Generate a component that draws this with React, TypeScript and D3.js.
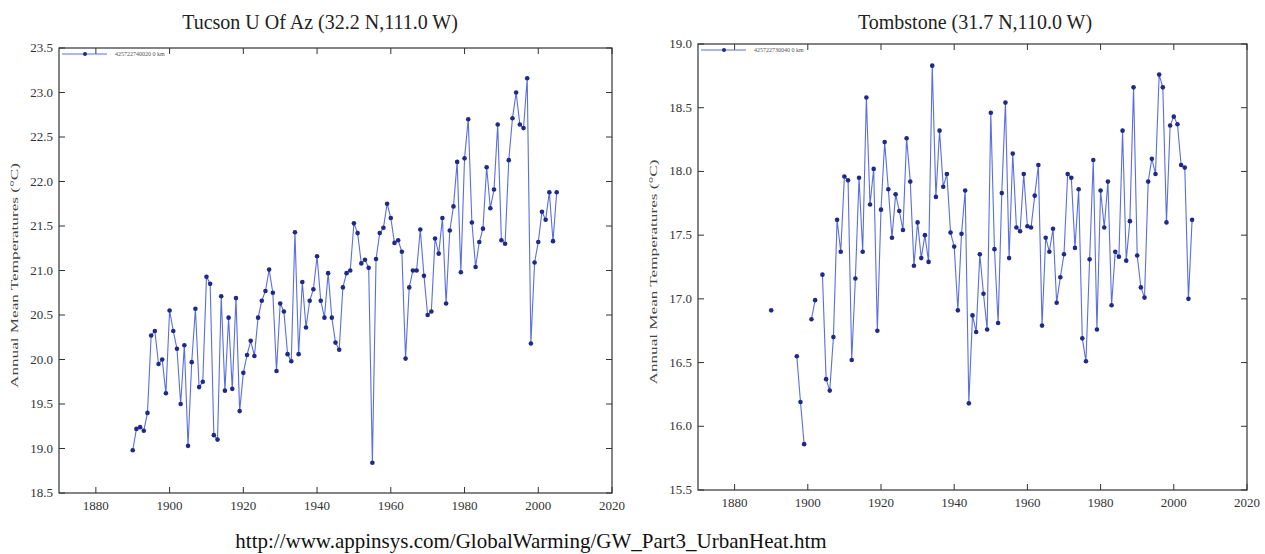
import React, { useEffect, useRef } from 'react';
import * as d3 from 'd3';

// Tucson U Of Az, annual mean temperature, 1890-2005
const tucsonYears = d3.range(1890, 2006);
const tucsonValues = [
  18.98, 19.22, 19.24, 19.20, 19.40, 20.27, 20.32, 19.95, 20.00, 19.62,
  20.55, 20.32, 20.12, 19.50, 20.16, 19.03, 19.97, 20.57, 19.69, 19.75,
  20.93, 20.85, 19.15, 19.10, 20.71, 19.65, 20.47, 19.67, 20.69, 19.42,
  19.85, 20.05, 20.21, 20.04, 20.47, 20.66, 20.77, 21.01, 20.75, 19.87,
  20.63, 20.54, 20.06, 19.98, 21.43, 20.06, 20.87, 20.36, 20.66, 20.79,
  21.16, 20.66, 20.47, 20.97, 20.47, 20.19, 20.11, 20.81, 20.97, 21.00,
  21.53, 21.42, 21.08, 21.12, 21.03, 18.84, 21.13, 21.42, 21.48, 21.75,
  21.59, 21.31, 21.34, 21.21, 20.01, 20.81, 21.00, 21.00, 21.46, 20.94,
  20.50, 20.54, 21.36, 21.19, 21.59, 20.63, 21.45, 21.72, 22.22, 20.98,
  22.26, 22.70, 21.54, 21.04, 21.32, 21.47, 22.16, 21.70, 21.91, 22.64,
  21.34, 21.30, 22.24, 22.71, 23.00, 22.64, 22.60, 23.16, 20.18, 21.09,
  21.32, 21.66, 21.57, 21.88, 21.33, 21.88
];

// Tombstone, 1890-2005 (null = missing year)
const tombstoneYears = d3.range(1890, 2006);
const tombstoneValues = [
  16.91, null, null, null, null, null, null, 16.55, 16.19, 15.86,
  null, 16.84, 16.99, null, 17.19, 16.37, 16.28, 16.70, 17.62, 17.37,
  17.96, 17.93, 16.52, 17.16, 17.95, 17.37, 18.58, 17.74, 18.02, 16.75,
  17.70, 18.23, 17.86, 17.48, 17.82, 17.69, 17.54, 18.26, 17.92, 17.26,
  17.60, 17.32, 17.50, 17.29, 18.83, 17.80, 18.32, 17.88, 17.98, 17.52,
  17.41, 16.91, 17.51, 17.85, 16.18, 16.87, 16.74, 17.35, 17.04, 16.76,
  18.46, 17.39, 16.81, 17.83, 18.54, 17.32, 18.14, 17.56, 17.53, 17.98,
  17.57, 17.56, 17.81, 18.05, 16.79, 17.48, 17.37, 17.55, 16.97, 17.17,
  17.35, 17.98, 17.95, 17.40, 17.86, 16.69, 16.51, 17.31, 18.09, 16.76,
  17.85, 17.56, 17.92, 16.95, 17.37, 17.33, 18.32, 17.30, 17.61, 18.66,
  17.34, 17.09, 17.01, 17.92, 18.10, 17.98, 18.76, 18.66, 17.60, 18.36,
  18.43, 18.37, 18.05, 18.03, 17.00, 17.62
];

const xTicks = [1880, 1900, 1920, 1940, 1960, 1980, 2000, 2020];
const tucsonYTicks = [18.5, 19.0, 19.5, 20.0, 20.5, 21.0, 21.5, 22.0, 22.5, 23.0, 23.5];
const tombstoneYTicks = [15.5, 16.0, 16.5, 17.0, 17.5, 18.0, 18.5, 19.0];

const panels = [
  {
    title: 'Tucson U Of Az (32.2 N,111.0 W)',
    legend: '425722740020 0 km',
    years: tucsonYears, values: tucsonValues,
    yDomain: [18.5, 23.5], yTicks: tucsonYTicks,
    left: 59, right: 612, top: 48, bottom: 493,
    titleX: 320, labelX: 18
  },
  {
    title: 'Tombstone (31.7 N,110.0 W)',
    legend: '425722730040 0 km',
    years: tombstoneYears, values: tombstoneValues,
    yDomain: [15.5, 19.0], yTicks: tombstoneYTicks,
    left: 698, right: 1247, top: 44, bottom: 490,
    titleX: 975, labelX: 657
  }
];

const lineColor = '#5a6ee0';
const dotColor = '#1e2a86';
const axisColor = '#333';
const font = '"Liberation Serif", "DejaVu Serif", serif';

function App() {
  const ref = useRef(null);

  useEffect(() => {
    const svg = d3.select(ref.current);
    svg.selectAll('*').remove();

    panels.forEach(p => {
      const x = d3.scaleLinear().domain([1870, 2020]).range([p.left, p.right]);
      const y = d3.scaleLinear().domain(p.yDomain).range([p.bottom, p.top]);
      const data = p.years.map((yr, i) => ({ year: yr, value: p.values[i] }));
      const g = svg.append('g');

      // title
      g.append('text')
        .attr('x', p.titleX).attr('y', 29)
        .attr('text-anchor', 'middle')
        .attr('font-family', font).attr('font-size', 20)
        .attr('fill', '#222')
        .text(p.title);

      // axis box
      g.append('rect')
        .attr('x', p.left).attr('y', p.top)
        .attr('width', p.right - p.left).attr('height', p.bottom - p.top)
        .attr('fill', 'none').attr('stroke', axisColor).attr('stroke-width', 1.2);

      // x ticks (inward, top and bottom)
      xTicks.forEach(t => {
        g.append('line')
          .attr('x1', x(t)).attr('x2', x(t))
          .attr('y1', p.bottom).attr('y2', p.bottom - 6)
          .attr('stroke', axisColor);
        g.append('line')
          .attr('x1', x(t)).attr('x2', x(t))
          .attr('y1', p.top).attr('y2', p.top + 6)
          .attr('stroke', axisColor);
        g.append('text')
          .attr('x', x(t)).attr('y', p.bottom + 17)
          .attr('text-anchor', 'middle')
          .attr('font-family', font).attr('font-size', 13)
          .attr('fill', '#333')
          .text(t);
      });

      // y ticks (inward, left and right)
      p.yTicks.forEach(t => {
        g.append('line')
          .attr('x1', p.left).attr('x2', p.left + 6)
          .attr('y1', y(t)).attr('y2', y(t))
          .attr('stroke', axisColor);
        g.append('line')
          .attr('x1', p.right).attr('x2', p.right - 6)
          .attr('y1', y(t)).attr('y2', y(t))
          .attr('stroke', axisColor);
        g.append('text')
          .attr('x', p.left - 6).attr('y', y(t) + 4)
          .attr('text-anchor', 'end')
          .attr('font-family', font).attr('font-size', 13)
          .attr('fill', '#333')
          .text(t.toFixed(1));
      });

      // y label
      const cy = (p.top + p.bottom) / 2 + 5;
      g.append('text')
        .attr('transform', `translate(${p.labelX},${cy}) rotate(-90)`)
        .attr('text-anchor', 'middle')
        .attr('font-family', font).attr('font-size', 10)
        .attr('textLength', 225).attr('lengthAdjust', 'spacingAndGlyphs')
        .attr('fill', '#444')
        .text('Annual Mean Temperatures (°C)');

      // series line
      g.append('path')
        .datum(data)
        .attr('fill', 'none')
        .attr('stroke', lineColor)
        .attr('stroke-width', 1.1)
        .attr('d', d3.line()
          .defined(d => d.value != null)
          .x(d => x(d.year))
          .y(d => y(d.value))
        );

      g.selectAll('circle.pt')
        .data(data.filter(d => d.value != null))
        .enter().append('circle')
        .attr('class', 'pt')
        .attr('cx', d => x(d.year))
        .attr('cy', d => y(d.value))
        .attr('r', 2.3)
        .attr('fill', dotColor);

      // legend
      const ly = p.top + 6;
      g.append('line')
        .attr('x1', p.left + 3).attr('x2', p.left + 48)
        .attr('y1', ly).attr('y2', ly)
        .attr('stroke', lineColor).attr('stroke-width', 1.1);
      g.append('circle')
        .attr('cx', p.left + 26).attr('cy', ly).attr('r', 2)
        .attr('fill', dotColor);
      g.append('text')
        .attr('x', p.left + 56).attr('y', ly + 2)
        .attr('font-family', font).attr('font-size', 6)
        .attr('fill', '#555')
        .text(p.legend);
    });

    svg.append('text')
      .attr('x', 531).attr('y', 548)
      .attr('text-anchor', 'middle')
      .attr('font-family', font).attr('font-size', 21)
      .attr('fill', '#111')
      .text('http://www.appinsys.com/GlobalWarming/GW_Part3_UrbanHeat.htm');
  }, []);

  return (
    <svg ref={ref} width={1265} height={554}
      style={{ position: 'absolute', left: 0, top: 0, background: '#fff' }} />
  );
}

export default App;
